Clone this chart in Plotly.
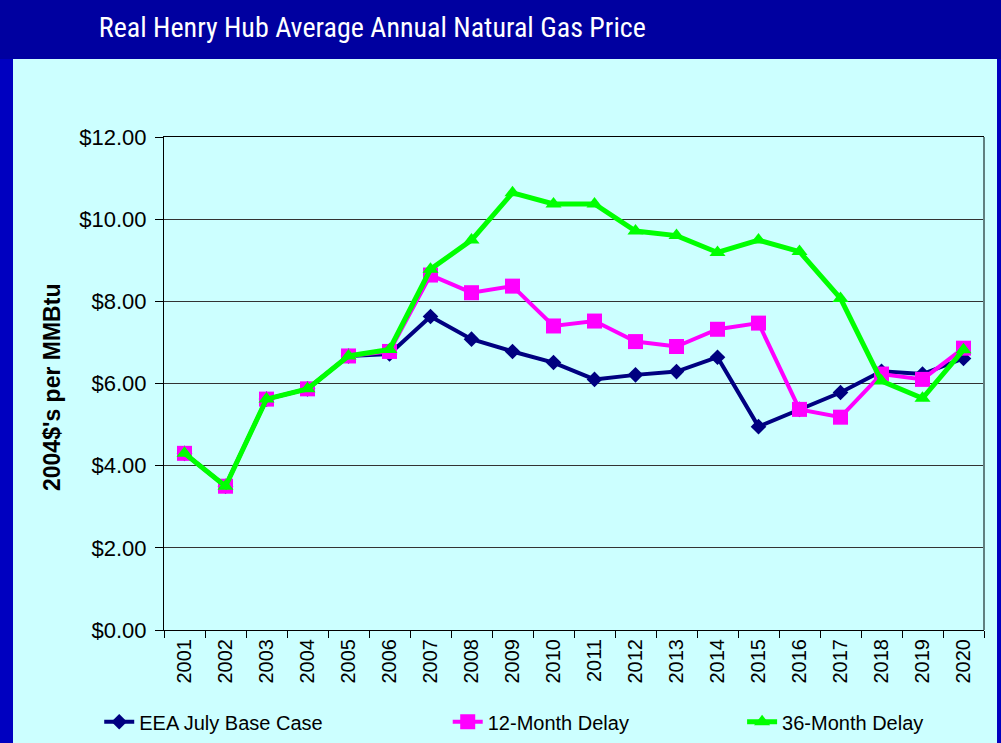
import plotly.graph_objects as go

years = [str(y) for y in range(2001, 2021)]
base_case = [4.30, 3.50, 5.62, 5.87, 6.67, 6.72, 7.63, 7.08, 6.78, 6.51, 6.10,
             6.21, 6.29, 6.64, 4.95, 5.37, 5.78, 6.30, 6.23, 6.61]
delay_12 = [4.30, 3.50, 5.62, 5.87, 6.67, 6.78, 8.64, 8.21, 8.37, 7.40, 7.52,
            7.02, 6.90, 7.32, 7.47, 5.37, 5.18, 6.23, 6.10, 6.86]
delay_36 = [4.30, 3.50, 5.62, 5.87, 6.67, 6.83, 8.78, 9.49, 10.64, 10.37, 10.37,
            9.71, 9.60, 9.19, 9.49, 9.21, 8.07, 6.06, 5.64, 6.82]
y_ticks = [0, 2, 4, 6, 8, 10, 12]
y_tick_labels = ["$0.00", "$2.00", "$4.00", "$6.00", "$8.00", "$10.00", "$12.00"]

FONT = "Liberation Sans, Arial, sans-serif"
NARROW = "Roboto Condensed, DejaVu Sans Condensed, Liberation Sans Narrow, Arial Narrow, sans-serif"

fig = go.Figure()
fig.add_trace(go.Scatter(
    x=years, y=base_case, name="EEA July Base Case", mode="lines+markers",
    line=dict(color="#000080", width=4),
    marker=dict(symbol="diamond", size=12, color="#000080"),
    legend="legend"))
fig.add_trace(go.Scatter(
    x=years, y=delay_12, name="12-Month Delay", mode="lines+markers",
    line=dict(color="#FF00FF", width=4),
    marker=dict(symbol="square", size=15, color="#FF00FF"),
    legend="legend2"))
fig.add_trace(go.Scatter(
    x=years, y=delay_36, name="36-Month Delay", mode="lines+markers",
    line=dict(color="#00FF00", width=5),
    marker=dict(symbol="triangle-up", size=14, color="#00FF00"),
    legend="legend3"))

leg_common = dict(orientation="h", yref="paper", y=-0.186, yanchor="middle",
                  xanchor="left", bgcolor="rgba(0,0,0,0)",
                  font=dict(family=FONT, size=20, color="#000000"))

fig.update_layout(
    template="none",
    width=1001, height=743,
    margin=dict(l=164, r=17, t=137, b=113, autoexpand=False),
    paper_bgcolor="#0000C0",
    plot_bgcolor="#CCFFFF",
    title=dict(text="Real Henry Hub Average Annual Natural Gas Price",
               x=0.372, xanchor="center", xref="container",
               y=1 - 27 / 743, yanchor="middle", yref="container",
               font=dict(family=NARROW, size=28, color="#FFFFFF")),
    showlegend=True,
    legend=dict(x=-0.079, **leg_common),
    legend2=dict(x=0.346, **leg_common),
    legend3=dict(x=0.705, **leg_common),
    xaxis=dict(type="category", range=[-0.5, 19.5], showgrid=False,
               showline=True, linecolor="#000000", linewidth=1, mirror=True,
               ticks="outside", tickson="boundaries", ticklen=7,
               tickcolor="#000000", tickangle=-90, automargin=False,
               tickfont=dict(family=FONT, size=20, color="#000000")),
    yaxis=dict(range=[0, 12], tickvals=y_ticks, ticktext=y_tick_labels,
               showgrid=True, gridcolor="#333333", gridwidth=1,
               showline=True, linecolor="#000000", linewidth=1,
               ticks="outside", ticklen=8, tickcolor="#000000",
               ticklabelstandoff=4,
               zeroline=False, automargin=False,
               tickfont=dict(family=FONT, size=22, color="#000000")),
    shapes=[
        dict(type="rect", xref="paper", yref="paper", layer="below",
             x0=(13 - 164) / 820, x1=(997 - 164) / 820,
             y0=-0.3, y1=(630 - 59) / 493,
             fillcolor="#CCFFFF", line=dict(width=0)),
        dict(type="rect", xref="paper", yref="paper", layer="below",
             x0=-0.3, x1=1.1, y0=(630 - 59) / 493, y1=1.4,
             fillcolor="#0000A0", line=dict(width=0)),
        dict(type="line", xref="paper", yref="paper", layer="above",
             x0=1, x1=1, y0=0, y1=1, line=dict(color="#608080", width=2)),
    ],
    annotations=[
        dict(text="<b>2004$'s per MMBtu</b>", textangle=-90,
             xref="paper", yref="paper", x=(52 - 164) / 820, y=(630 - 387) / 493,
             xanchor="center", yanchor="middle", showarrow=False,
             font=dict(family=FONT, size=23, color="#000000")),
    ],
)

fig.write_html("out.html", config={"displayModeBar": False},
               post_script="document.body.style.margin='0';document.body.style.background='#0000C0';")
